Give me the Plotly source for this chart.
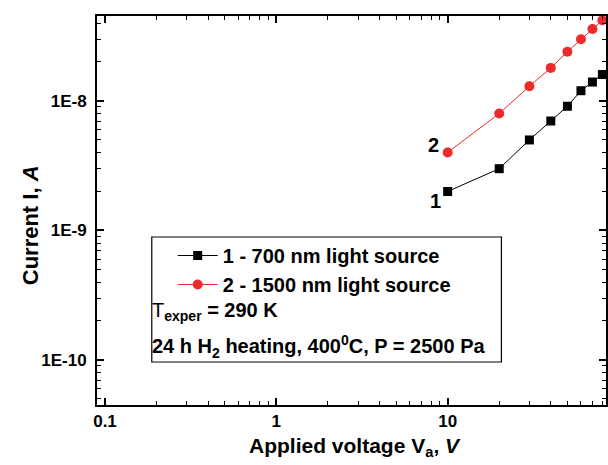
import numpy as np
import plotly.graph_objects as go

# Applied voltage (V) and measured current (A)
voltage = [10, 20, 30, 40, 50, 60, 70, 80]
current_700nm = [2.0e-9, 3.0e-9, 5.0e-9, 7.0e-9, 9.1e-9, 1.2e-8, 1.4e-8, 1.6e-8]
current_1500nm = [4.0e-9, 8.0e-9, 1.3e-8, 1.8e-8, 2.4e-8, 3.0e-8, 3.6e-8, 4.2e-8]

x_major = [0.1, 1, 10]
x_major_text = ["<b>0.1</b>", "<b>1</b>", "<b>10</b>"]
y_major = [1e-10, 1e-9, 1e-8]
y_major_text = ["<b>1E-10</b>", "<b>1E-9</b>", "<b>1E-8</b>"]

FONT = "Liberation Sans, Arial, sans-serif"

x_minor = [m * d for d in (0.01, 0.1, 1, 10) for m in range(2, 10)]
y_minor = [m * d for d in (1e-11, 1e-10, 1e-9, 1e-8) for m in range(2, 10)]

# plot area in pixels
L, R, T, B = 97, 608, 16, 405
W, H = R - L, B - T


def px(x):
    return (x - L) / W


def py(y):
    return (B - y) / H


fig = go.Figure()

fig.add_trace(go.Scatter(
    x=voltage, y=current_700nm, mode="lines+markers",
    name="<b>1 - 700 nm light source</b>",
    line=dict(color="black", width=1),
    marker=dict(symbol="square", size=9, color="black"),
    cliponaxis=False,
))
fig.add_trace(go.Scatter(
    x=voltage, y=current_1500nm, mode="lines+markers",
    name="<b>2 - 1500 nm light source</b>",
    line=dict(color="#ee2a2a", width=1),
    marker=dict(symbol="circle", size=10, color="#ee2a2a"),
    cliponaxis=False,
))

# curve numbers next to the first points
fig.add_annotation(x=np.log10(voltage[0]), y=np.log10(current_1500nm[0]),
                   text="<b>2</b>", showarrow=False, xshift=-14, yshift=8,
                   font=dict(family=FONT, size=20, color="black"))
fig.add_annotation(x=np.log10(voltage[0]), y=np.log10(current_700nm[0]),
                   text="<b>1</b>", showarrow=False, xshift=-12, yshift=-10,
                   font=dict(family=FONT, size=20, color="black"))

# legend frame and extra notes
fig.add_shape(type="rect", xref="paper", yref="paper",
              x0=px(152), x1=px(503), y0=py(362), y1=py(237),
              line=dict(color="black", width=1.2), fillcolor="white", layer="below")
fig.add_annotation(xref="paper", yref="paper", x=px(150), y=py(311),
                   xanchor="left", yanchor="middle", showarrow=False,
                   text="T<sub><b>exper</b></sub><b> = 290 K</b>",
                   font=dict(family=FONT, size=20, color="black"))
fig.add_annotation(xref="paper", yref="paper", x=px(150), y=py(346),
                   xanchor="left", yanchor="middle", showarrow=False,
                   text="<b>24 h H<sub>2</sub> heating, 400<sup>0</sup>C, P = 2500 Pa</b>",
                   font=dict(family=FONT, size=20, color="black"))

# axis titles
fig.add_annotation(xref="paper", yref="paper", x=px(356), y=py(447),
                   xanchor="center", yanchor="middle", showarrow=False,
                   text="<b>Applied voltage V<sub>a</sub>, <i>V</i></b>",
                   font=dict(family=FONT, size=21, color="black"))
fig.add_annotation(xref="paper", yref="paper", x=px(30), y=py(225),
                   xanchor="center", yanchor="middle", showarrow=False,
                   textangle=-90,
                   text="<b>Current I, <i>A</i></b>",
                   font=dict(family=FONT, size=22, color="black"))

axis_common = dict(
    type="log", showgrid=False, zeroline=False,
    showline=True, linecolor="black", linewidth=2,
    ticks="inside", ticklen=7, tickwidth=1.5, tickcolor="black",
    mirror="allticks",
    tickfont=dict(family=FONT, size=17, color="black"),
)

fig.update_xaxes(
    **axis_common,
    range=[np.log10(0.0898), np.log10(84.0)],
    tickmode="array", tickvals=x_major, ticktext=x_major_text,
    minor=dict(tickmode="array", tickvals=x_minor, ticks="inside",
               ticklen=4, tickwidth=1.2, tickcolor="black"),
)
fig.update_yaxes(
    **axis_common,
    range=[np.log10(4.49e-11), np.log10(4.53e-8)],
    tickmode="array", tickvals=y_major, ticktext=y_major_text,
    ticklabelstandoff=5,
    minor=dict(tickmode="array", tickvals=y_minor, ticks="inside",
               ticklen=4, tickwidth=1.2, tickcolor="black"),
)

fig.update_layout(
    width=608, height=465,
    margin=dict(l=L, r=608 - R, t=T, b=465 - B),
    paper_bgcolor="white", plot_bgcolor="white",
    showlegend=True,
    legend=dict(x=px(173), y=py(236),
                xanchor="left", yanchor="top",
                bgcolor="rgba(0,0,0,0)", borderwidth=0,
                font=dict(family=FONT, size=20, color="black"),
                tracegroupgap=0, itemwidth=40),
)

fig.write_html("out.html")
